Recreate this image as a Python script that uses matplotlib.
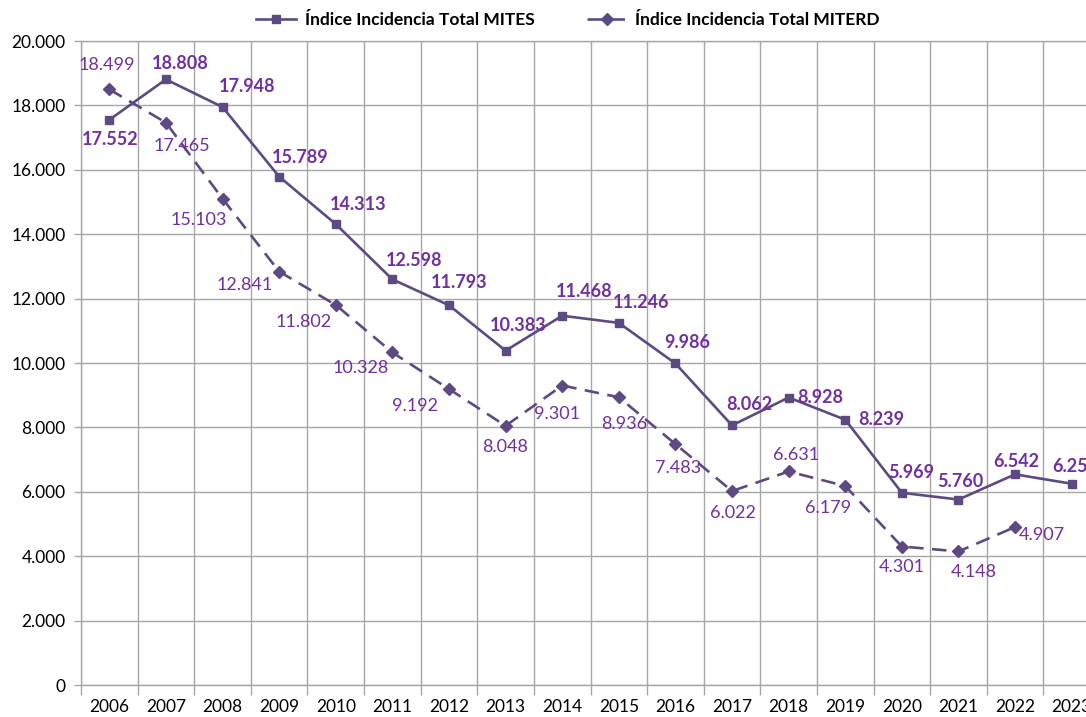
import numpy as np
import matplotlib.pyplot as plt
from matplotlib.ticker import FuncFormatter, MultipleLocator, FixedLocator

plt.rcParams['font.family'] = ['Lato', 'DejaVu Sans']

years = [str(y) for y in range(2006, 2024)]
mites = [17552, 18808, 17948, 15789, 14313, 12598, 11793, 10383, 11468,
         11246, 9986, 8062, 8928, 8239, 5969, 5760, 6542, 6250]
miterd = [18499, 17465, 15103, 12841, 11802, 10328, 9192, 8048, 9301,
          8936, 7483, 6022, 6631, 6179, 4301, 4148, 4907, np.nan]
mites_txt = ['17.552', '18.808', '17.948', '15.789', '14.313', '12.598', '11.793',
             '10.383', '11.468', '11.246', '9.986', '8.062', '8.928', '8.239',
             '5.969', '5.760', '6.542', '6.25']
miterd_txt = ['18.499', '17.465', '15.103', '12.841', '11.802', '10.328', '9.192',
              '8.048', '9.301', '8.936', '7.483', '6.022', '6.631', '6.179',
              '4.301', '4.148', '4.907', '']

# label offsets in pixels (dx, dy up)
off_mites = [(1, -20), (14, 16), (25, 21), (21, 19), (22, 20), (22, 19), (10, 23),
             (13, 25), (22, 24), (22, 20), (12, 21), (17, 21), (32, 0), (36, 0),
             (9, 20), (2, 18), (1, 13), (-2, 17)]
off_miterd = [(-3, 24), (16, -23), (-24, -21), (-34, -13), (-32, -17), (-32, -16),
              (-34, -17), (-1, -21), (-5, -28), (5, -27), (3, -24), (1, -22), (7, 16),
              (-17, -22), (0, -20), (15, -21), (27, -8), (0, 0)]

line_c = '#5E4A82'
lab_c = '#7030A0'
grid_c = '#A6A6A6'

fig = plt.figure(figsize=(10.86, 7.17), dpi=100)
ax = fig.add_axes([81 / 1086, 32 / 717, 1019 / 1086, 644 / 717])

x = np.arange(len(years))
ax.plot(x, mites, color=line_c, lw=1.9, marker='s', ms=5.5,
        label='Índice Incidencia Total MITES', zorder=3)
ax.plot(x, miterd, color=line_c, lw=1.9, ls=(0, (5.5, 3.2)), marker='D', ms=6.5,
        label='Índice Incidencia Total MITERD', zorder=3)

for i in range(len(years)):
    dx, dy = off_mites[i]
    ax.annotate(mites_txt[i], (x[i], mites[i]), xytext=(dx * 0.72, dy * 0.72),
                textcoords='offset points', ha='center', va='center',
                fontsize=13, fontweight='bold', color=lab_c)
    if miterd_txt[i]:
        dx, dy = off_miterd[i]
        ax.annotate(miterd_txt[i], (x[i], miterd[i]), xytext=(dx * 0.72, dy * 0.72),
                    textcoords='offset points', ha='center', va='center',
                    fontsize=13, color=lab_c)

ax.set_xlim(-0.5, len(years) - 0.5)
ax.set_ylim(0, 20000)
ax.set_xticks(x)
ax.set_xticklabels(years)
ax.xaxis.set_minor_locator(FixedLocator(np.arange(-0.5, len(years), 1)))
ax.yaxis.set_major_locator(MultipleLocator(2000))
ax.yaxis.set_major_formatter(FuncFormatter(lambda v, p: f'{int(v):,}'.replace(',', '.')))
ax.tick_params(axis='x', which='major', length=0, pad=10, labelsize=12.5)
ax.tick_params(axis='x', which='minor', length=7, color=grid_c, width=1)
ax.tick_params(axis='y', length=5, color=grid_c, width=1, labelsize=12.5, pad=6)
ax.grid(True, axis='y', which='major', color=grid_c, lw=1)
ax.grid(True, axis='x', which='minor', color=grid_c, lw=1)
ax.set_axisbelow(True)
for s in ax.spines.values():
    s.set_color(grid_c)
    s.set_linewidth(1)

leg = ax.legend(loc='center', ncol=2, frameon=False,
                prop={'weight': 'bold', 'size': 12.5}, columnspacing=3.0,
                handlelength=2.3, handletextpad=0.5)
leg.set_bbox_to_anchor((568 / 1086, 1 - 20 / 717), transform=fig.transFigure)

fig.savefig('out.png', dpi=100)
